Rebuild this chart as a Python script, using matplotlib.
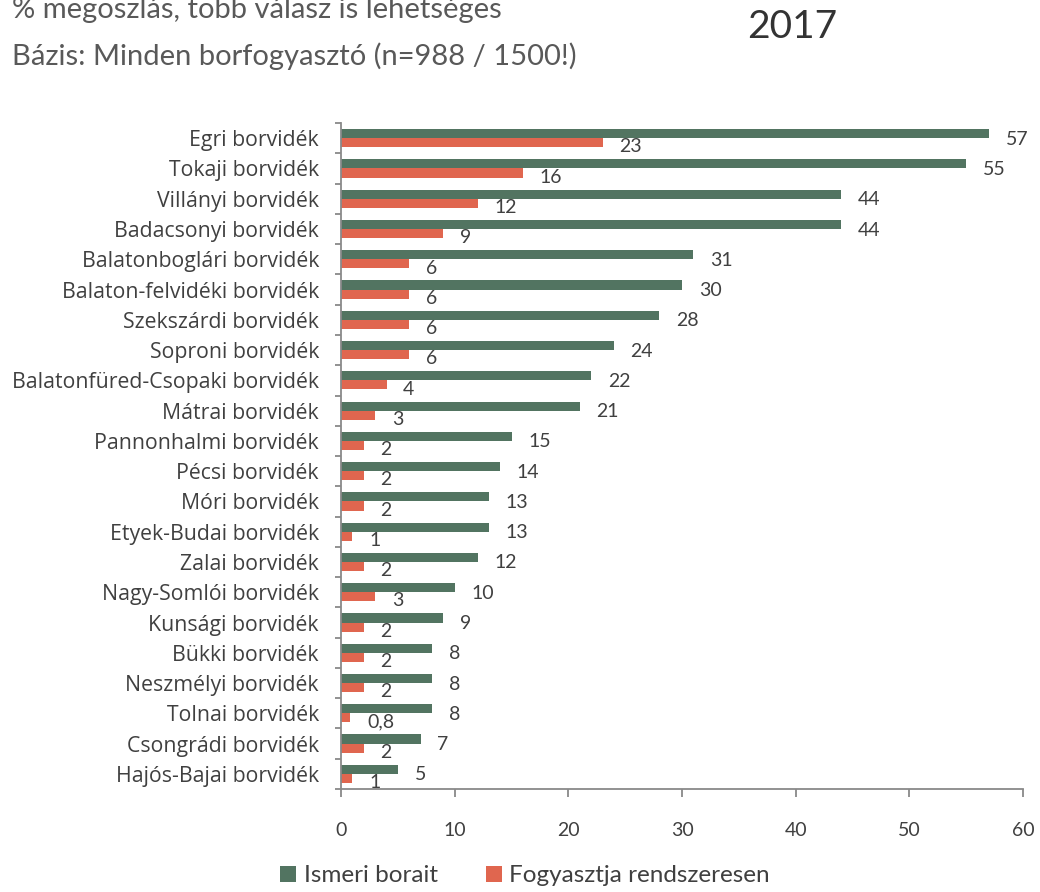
import matplotlib.pyplot as plt
import numpy as np

plt.rcParams['font.family'] = ['Lato', 'DejaVu Sans']

# borvidékek és a két kérdés eredménye (%)
regions = [
    "Egri borvidék", "Tokaji borvidék", "Villányi borvidék", "Badacsonyi borvidék",
    "Balatonboglári borvidék", "Balaton-felvidéki borvidék", "Szekszárdi borvidék",
    "Soproni borvidék", "Balatonfüred-Csopaki borvidék", "Mátrai borvidék",
    "Pannonhalmi borvidék", "Pécsi borvidék", "Móri borvidék", "Etyek-Budai borvidék",
    "Zalai borvidék", "Nagy-Somlói borvidék", "Kunsági borvidék", "Bükki borvidék",
    "Neszmélyi borvidék", "Tolnai borvidék", "Csongrádi borvidék", "Hajós-Bajai borvidék",
]
ismeri = [57, 55, 44, 44, 31, 30, 28, 24, 22, 21, 15, 14, 13, 13, 12, 10, 9, 8, 8, 8, 7, 5]
fogyasztja = [23, 16, 12, 9, 6, 6, 6, 6, 4, 3, 2, 2, 2, 1, 2, 3, 2, 2, 2, 0.8, 2, 1]
xticks = [0, 10, 20, 30, 40, 50, 60]

green = "#527461"
orange = "#E0664F"
text_col = "#404040"
axis_col = "#898989"

fig = plt.figure(figsize=(10.4, 8.92), dpi=100)
ax = fig.add_axes([0.328, 0.1155, 0.6557, 0.7465])

y = np.arange(len(regions))
h = 0.3
ax.barh(y - h / 2, ismeri, height=h, color=green, label="Ismeri borait")
ax.barh(y + h / 2, fogyasztja, height=h, color=orange, label="Fogyasztja rendszeresen")


def fmt(v):
    return f"{v:g}".replace(".", ",")


for yi, v in zip(y, ismeri):
    ax.annotate(fmt(v), (v, yi - h / 2), xytext=(12, -4), textcoords="offset points",
                va="center", ha="left", fontsize=14, color=text_col)
for yi, v in zip(y, fogyasztja):
    ax.annotate(fmt(v), (v, yi + h / 2), xytext=(12, -3), textcoords="offset points",
                va="center", ha="left", fontsize=14, color=text_col)

ax.set_xlim(0, 60)
ax.set_ylim(len(regions) - 0.5, -0.5)
ax.set_xticks(xticks)
ax.set_yticks(y)
ax.set_yticklabels(regions, family=["Open Sans", "DejaVu Sans"])
ax.set_yticks(np.arange(len(regions) + 1) - 0.5, minor=True)

for side in ("top", "right"):
    ax.spines[side].set_visible(False)
for side in ("left", "bottom"):
    ax.spines[side].set_color(axis_col)
    ax.spines[side].set_linewidth(1.3)

ax.tick_params(axis="y", which="major", length=0, pad=16, labelsize=15.3, labelcolor=text_col)
ax.tick_params(axis="y", which="minor", length=4, width=1.3, color=axis_col)
ax.tick_params(axis="x", length=6, width=1.3, color=axis_col, pad=18,
               labelsize=14, labelcolor=text_col)

fig.text(0.012, 0.9798, "% megoszlás, több válasz is lehetséges", fontsize=21,
         color="#595959", va="baseline")
fig.text(0.012, 0.9271, "Bázis: Minden borfogyasztó (n=988 / 1500!)", fontsize=21,
         color="#595959", va="baseline")
fig.text(0.7615, 0.957, "2017", fontsize=28, color="#333333", ha="center", va="baseline")

fig.legend(loc="lower center", bbox_to_anchor=(0.505, -0.018), ncol=2, frameon=False,
           fontsize=17.5, handlelength=0.65, handleheight=0.65, handletextpad=0.3,
           columnspacing=2.0, labelcolor=text_col)

fig.savefig("out.png", dpi=100)
